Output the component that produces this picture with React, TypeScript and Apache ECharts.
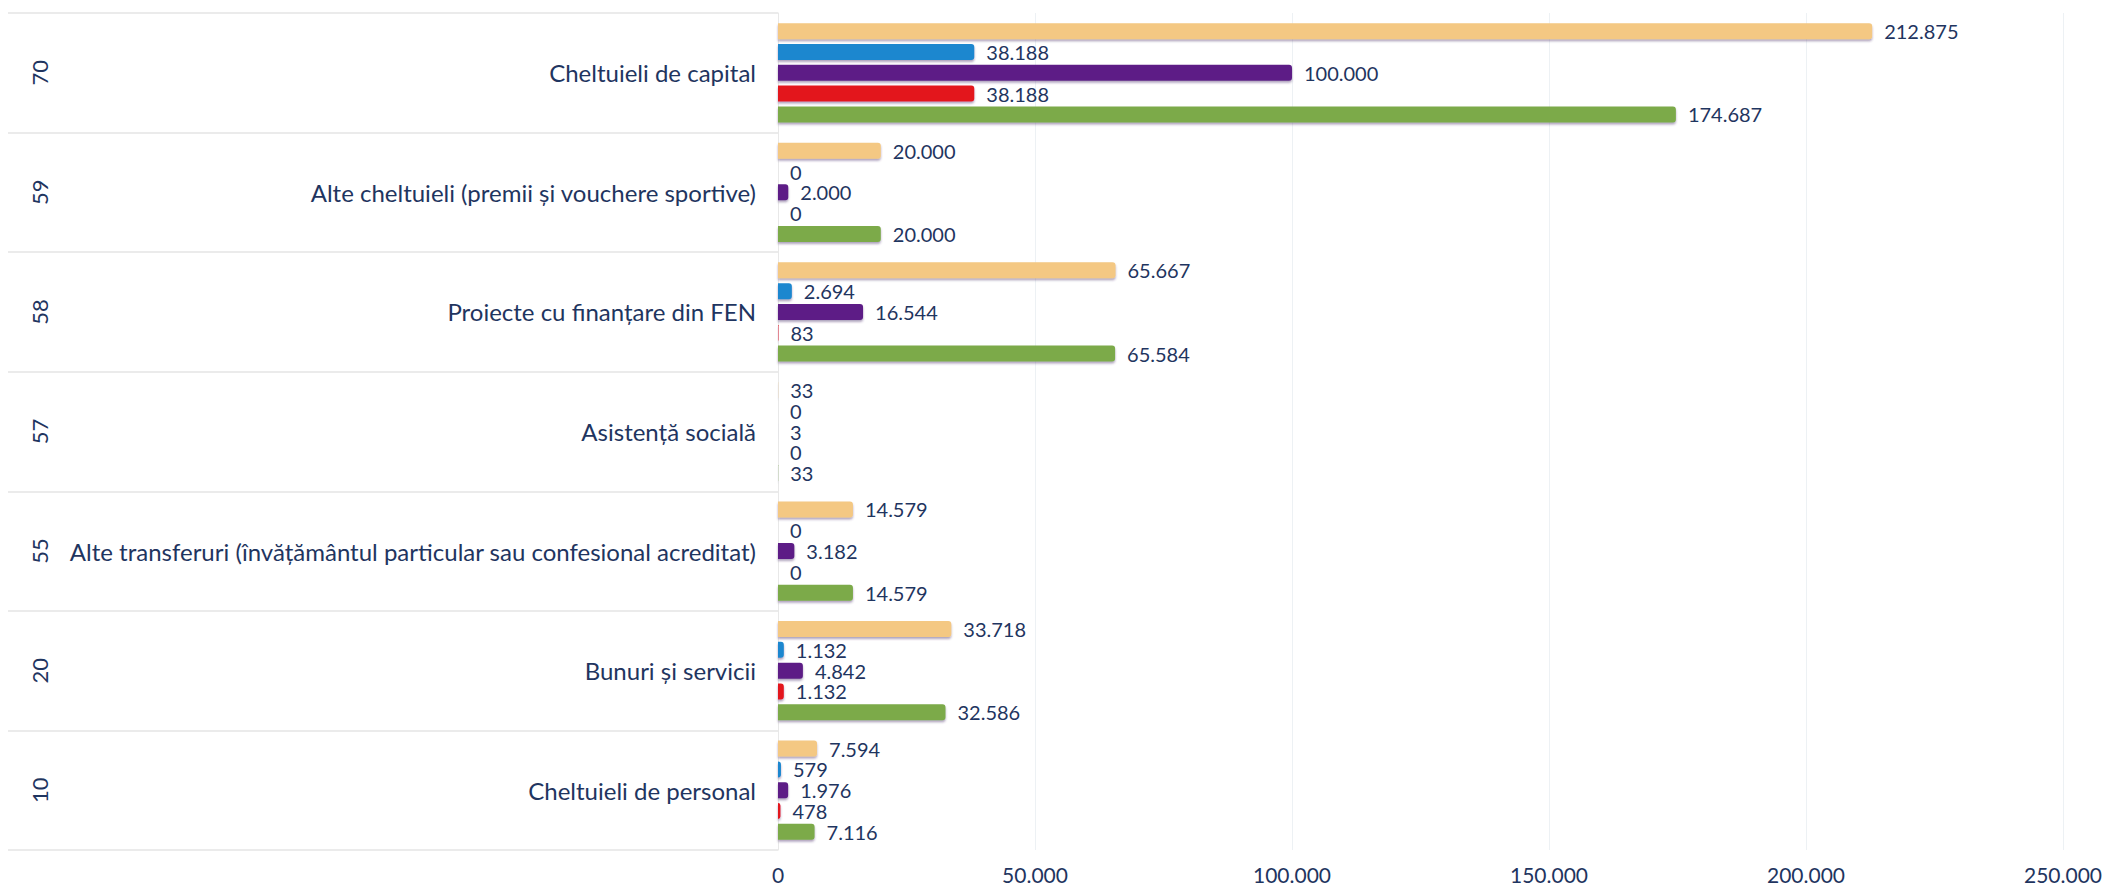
import React, { useEffect, useRef } from "react";
import * as echarts from "echarts";

const codes = ["70", "59", "58", "57", "55", "20", "10"];
const categories = [
  "Cheltuieli de capital",
  "Alte cheltuieli (premii și vouchere sportive)",
  "Proiecte cu finanțare din FEN",
  "Asistență socială",
  "Alte transferuri (învățământul particular sau confesional acreditat)",
  "Bunuri și servicii",
  "Cheltuieli de personal",
];

const seriesA = [212875, 20000, 65667, 33, 14579, 33718, 7594];
const seriesB = [38188, 0, 2694, 0, 0, 1132, 579];
const seriesC = [100000, 2000, 16544, 3, 3182, 4842, 1976];
const seriesD = [38188, 0, 83, 0, 0, 1132, 478];
const seriesE = [174687, 20000, 65584, 33, 14579, 32586, 7116];

const seriesNames = ["Seria 1", "Seria 2", "Seria 3", "Seria 4", "Seria 5"];
const seriesData = [seriesA, seriesB, seriesC, seriesD, seriesE];
const seriesColors = ["#F4C883", "#1B87CF", "#5D1F86", "#E3141F", "#7CAA49"];

const xTicks = { min: 0, max: 250000, interval: 50000 };

const fmt = (v: number) =>
  String(Math.round(v)).replace(/\B(?=(\d{3})+(?!\d))/g, ".");

const FONT = "Lato";
const TEXT = "#1F3560";

export default function App() {
  const ref = useRef<HTMLDivElement>(null);
  useEffect(() => {
    if (!ref.current) return;
    const chart = echarts.init(ref.current, null, { renderer: "svg" });
    chart.setOption({
      animation: false,
      backgroundColor: "#ffffff",
      textStyle: { fontFamily: FONT },
      grid: { left: 778, right: 42, top: 13, bottom: 42, containLabel: false },
      xAxis: {
        type: "value",
        min: xTicks.min,
        max: xTicks.max,
        interval: xTicks.interval,
        axisLine: { show: false },
        axisTick: { show: false },
        splitLine: { show: true, lineStyle: { color: "#EDF1F4", width: 1 } },
        axisLabel: {
          formatter: (v: number) => fmt(v),
          fontFamily: FONT,
          fontSize: 21,
          color: TEXT,
          margin: 14,
        },
      },
      yAxis: [
        {
          type: "category",
          data: categories,
          inverse: true,
          position: "left",
          axisLine: { show: true, lineStyle: { color: "#E8E8E8", width: 1 } },
          axisTick: {
            show: true,
            length: 770,
            lineStyle: { color: "#E4E4E4", width: 1.5 },
          },
          axisLabel: {
            fontFamily: FONT,
            fontSize: 24,
            color: TEXT,
            margin: 22,
          },
        },
        {
          type: "category",
          data: codes,
          inverse: true,
          position: "left",
          offset: 0,
          axisLine: { show: false },
          axisTick: { show: false },
          axisLabel: {
            fontFamily: FONT,
            fontSize: 22,
            color: TEXT,
            rotate: 90,
            margin: 728,
          },
        },
      ],
      series: seriesData.map((d, i) => ({
        name: seriesNames[i],
        type: "bar",
        yAxisIndex: 0,
        data: d,
        barWidth: 16,
        barGap: "30%",
        itemStyle: {
          color: seriesColors[i],
          borderRadius: [0, 3, 3, 0],
          shadowColor: "rgba(80,50,110,0.45)",
          shadowOffsetY: 2,
          shadowBlur: 2,
        },
        label: {
          show: true,
          position: "right",
          distance: 12,
          formatter: (p: any) => fmt(p.value),
          fontFamily: FONT,
          fontSize: 20,
          lineHeight: 20,
          color: TEXT,
        },
      })),
    });
    return () => chart.dispose();
  }, []);
  return (
    <div
      ref={ref}
      style={{ position: "fixed", left: 0, top: 0, width: 2105, height: 892 }}
    />
  );
}
